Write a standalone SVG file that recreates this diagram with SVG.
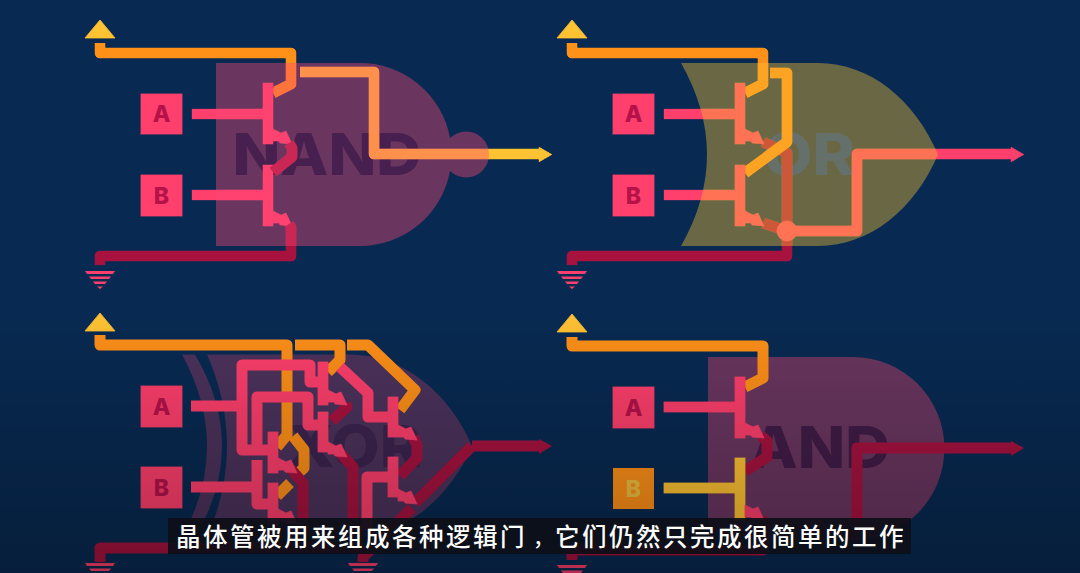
<svg xmlns="http://www.w3.org/2000/svg" width="1080" height="573" viewBox="0 0 1080 573">
<style>
.w{fill:none;stroke-width:11;stroke-linejoin:round}
.y{stroke:#ffc233}.o{stroke:#ff9018}.p{stroke:#ff3f6c}.d{stroke:#a8123f}
.fy{fill:#ffc233;stroke:#ffc233;stroke-width:.8}.fo{fill:#ff9018}.fp{fill:#ff3f6c;stroke:#ff3f6c;stroke-width:.8}.fd{fill:#a8123f}
.box{font:800 23px "Inter","Liberation Sans",sans-serif;text-anchor:middle;fill:#b5124a}
.gt{font:800 58px "Inter","Liberation Sans",sans-serif;text-anchor:middle}
.sub{font:500 24.5px "Noto Sans CJK SC",sans-serif;fill:#fff;letter-spacing:2.5px}
</style>
<defs>
<linearGradient id="shade" x1="0" y1="0" x2="0" y2="1"><stop offset="0" stop-color="#000" stop-opacity="0"/><stop offset="1" stop-color="#000" stop-opacity=".28"/></linearGradient>
<polygon id="em" points="0,-15 8,-11 13,-13 19,0 7,-1 6,-3 0,-3"/>
<polygon id="vcc" points="-15,18 0,0 15,18" class="fy"/>
<g id="gnd" stroke="none"><polygon points="-15,0 15,0 13,3 -13,3"/><polygon points="-11,5.500 11,5.500 9,8 -9,8"/><polygon points="-7,10.500 7,10.500 5,13 -5,13"/><polygon points="-3,15.500 3,15.500 0,18"/></g>
<path id="gate1" d="M216,63H360A91.500,91.500 0 0 1 450,138A23,23 0 1 1 450,171A91.500,91.500 0 0 1 360,246H216Z"/>
<path id="gate2" d="M681,63H818C870,63 915,100 938,154.500C915,209 870,246 818,246H681Q733,154.500 681,63Z"/>
<g id="c1">
<path class="w o" d="M100,43V53H291V84L273,93"/>
<path class="w y" d="M300,72H374V154H539"/>
<polygon class="fy" points="552,154.500 539,147 539,162"/>
<rect class="fp" x="263" y="83" width="10" height="61"/><rect class="fp" x="263" y="165" width="10" height="61"/>
<rect class="fp" x="192" y="109" width="71" height="10"/><rect class="fp" x="192" y="190" width="71" height="10"/>
<use href="#em" x="273" y="144" class="fp"/>
<path class="w d" d="M289,143L292,148V157L273,172"/>
<use href="#em" x="273" y="226" class="fp"/>
<path class="w d" d="M289,224L291,227V256H100V265"/>
</g>
<g id="c2">
<path class="w d" d="M763,142L787,153V256H572V265"/>
<path class="w d" d="M763,223L787,231"/>
<path class="w o" d="M572,43V53H763V84L745,93"/>
<path class="w o" d="M770,73H787V142L745,173"/>
<rect class="fp" x="735" y="83" width="10" height="61"/><rect class="fp" x="735" y="165" width="10" height="61"/>
<rect class="fp" x="664" y="109" width="71" height="10"/><rect class="fp" x="664" y="190" width="71" height="10"/>
<use href="#em" x="745" y="144" class="fp"/><use href="#em" x="745" y="226" class="fp"/>
<circle class="fp" cx="787" cy="231" r="10"/>
<path class="w p" d="M787,231H857V154H1011"/>
<polygon class="fp" points="1024,154.500 1011,147 1011,162"/>
</g>
<mask id="m1" maskUnits="userSpaceOnUse" x="0" y="0" width="1080" height="573" style="mask-type:alpha"><use href="#c1"/></mask>
<mask id="m2" maskUnits="userSpaceOnUse" x="0" y="0" width="1080" height="573" style="mask-type:alpha"><use href="#c2"/></mask>
</defs>

<rect width="1080" height="573" fill="#082a52"/>

<g id="nand-gate">
<use href="#gate1" fill="#ff4975" fill-opacity=".4"/>
<text class="gt" x="327" y="175" fill="#47204f" textLength="189" lengthAdjust="spacingAndGlyphs">NAND</text>
<use href="#vcc" x="100" y="20"/><use href="#gnd" x="100" y="271" class="fp"/>
<rect class="fp" x="141" y="94" width="41" height="40"/><text class="box" x="161.500" y="122">A</text>
<rect class="fp" x="141" y="175" width="41" height="41"/><text class="box" x="161.500" y="203.500">B</text>
</g>
<g id="or-gate">
<use href="#gate2" fill="#ffc233" fill-opacity=".4"/>
<text class="gt" x="809" y="175" fill="#66706a" textLength="92" lengthAdjust="spacingAndGlyphs">OR</text>
<use href="#vcc" x="572" y="20"/><use href="#gnd" x="572" y="271" class="fp"/>
<rect class="fp" x="613" y="94" width="41" height="40"/><text class="box" x="633.500" y="122">A</text>
<rect class="fp" x="613" y="175" width="41" height="41"/><text class="box" x="633.500" y="203.500">B</text>
</g>
<g id="connectors">
<g mask="url(#m1)"><use href="#c1"/><use href="#gate1" fill="#ff4975" fill-opacity=".4"/></g>
<g mask="url(#m2)"><use href="#c2"/><use href="#gate2" fill="#ffc233" fill-opacity=".4"/></g>
</g>

<g id="xor-gate">
<path fill="#ff4975" fill-opacity=".28" d="M182,354.500H195Q249,446 195,537.500H182Q232,446 182,354.500Z"/>
<path fill="#ff4975" fill-opacity=".28" d="M207,354.500H350C402,354.500 449,392 472,446C449,500 402,537.500 350,537.500H207Q247,446 207,354.500Z"/>
<text class="gt" x="354" y="467" fill="#3c2450" textLength="135" lengthAdjust="spacingAndGlyphs">XOR</text>
<use href="#vcc" x="100" y="313"/><use href="#gnd" x="100" y="563" class="fp"/><use href="#gnd" x="363" y="563" class="fp"/>
<rect class="fp" x="141" y="386" width="41" height="41"/><text class="box" x="161.500" y="414.500">A</text>
<rect class="fp" x="141" y="467" width="41" height="41"/><text class="box" x="161.500" y="495.500">B</text>
</g>
<g id="xor-wires">
<path class="w o" d="M100,335V345H287V435L277,447"/>
<path class="w o" d="M295,345H340V360L328,372"/>
<path class="w o" d="M347,345H368L415,390L400,410"/>
<path class="w o" d="M293,436L304,450V468L297,474"/>
<path class="w o" d="M290,483L277,496"/>
<path class="w d" d="M346,403L347,407L332,421"/>
<path class="w d" d="M340,453L353,467V530"/>
<path class="w d" d="M290,468L303,483V530"/>
<path class="w d" d="M413,437L417,445V458L400,476"/>
<path class="w d" d="M472,446H539"/><polygon class="fd" points="552,446 539,439 539,454"/>
<path class="w d" d="M472,446L415,503"/><path class="w d" d="M412,508L363,557V562"/>
<path class="w d" d="M100,562V548H363"/>
<path class="w p" d="M191,406H242"/>
<path class="w p" d="M323,382H310V365H242V450H273"/>
<path class="w p" d="M257,445V397H308V425H323"/>
<path class="w p" d="M191,487H257M257,460V504H273"/>
<path class="w p" d="M340,367L368,393V417H393"/>
<path class="w p" d="M367,530V477H393"/>
<rect class="fp" x="318" y="362" width="10" height="43"/><rect class="fp" x="318" y="412" width="10" height="40"/>
<rect class="fp" x="268" y="432" width="10" height="41"/><rect class="fp" x="268" y="483" width="10" height="41"/>
<rect class="fp" x="388" y="397" width="10" height="40"/><rect class="fp" x="388" y="457" width="10" height="40"/>
<use href="#em" x="328" y="405" class="fp"/><use href="#em" x="328" y="457" class="fp"/>
<use href="#em" x="278" y="473" class="fp"/><use href="#em" x="278" y="524" class="fp"/>
<use href="#em" x="398" y="440" class="fp"/><use href="#em" x="398" y="504" class="fp"/>
</g>

<g id="and-gate">
<path fill="#ff4975" fill-opacity=".4" d="M708,357H853A91.500,91.500 0 0 1 853,540H708Z"/>
<text class="gt" x="820" y="468" fill="#421c48" textLength="140" lengthAdjust="spacingAndGlyphs">AND</text>
<use href="#vcc" x="572" y="314"/><use href="#gnd" x="572" y="565" class="fp"/>
<rect class="fp" x="613" y="387" width="41" height="41"/><text class="box" x="633.500" y="415.500">A</text>
<rect class="fo" x="613" y="468" width="41" height="41"/><text class="box" x="633.500" y="496.500" style="fill:#f0c040">B</text>
</g>
<g id="and-wires">
<path class="w o" d="M572,337V346H763V378L745,387"/>
<path class="w d" d="M761,436L767,441V457L745,471"/>
<path class="w d" d="M761,518L763,522V550H572V560"/>
<path class="w d" d="M857,540V448H1011"/><polygon class="fd" points="1024,448 1011,441 1011,456"/>
<rect class="fp" x="735" y="377" width="10" height="61"/><rect class="fy" x="735" y="458" width="10" height="62"/>
<rect class="fp" x="664" y="402" width="71" height="10"/><rect class="fy" x="664" y="483" width="71" height="10"/>
<use href="#em" x="745" y="438" class="fp"/><use href="#em" x="745" y="520" class="fp"/>
</g>

<rect x="0" y="300" width="1080" height="273" fill="url(#shade)"/>
<g id="subtitle">
<rect x="168" y="518" width="743" height="36" fill="#0d0f18" fill-opacity=".93"/>
<text class="sub" x="176" y="546">晶体管被用来组成各种逻辑门<tspan x="533" style="font-size:20px;letter-spacing:0">，</tspan><tspan x="555">它们仍然只完成很简单的工作</tspan></text>
</g>
</svg>
